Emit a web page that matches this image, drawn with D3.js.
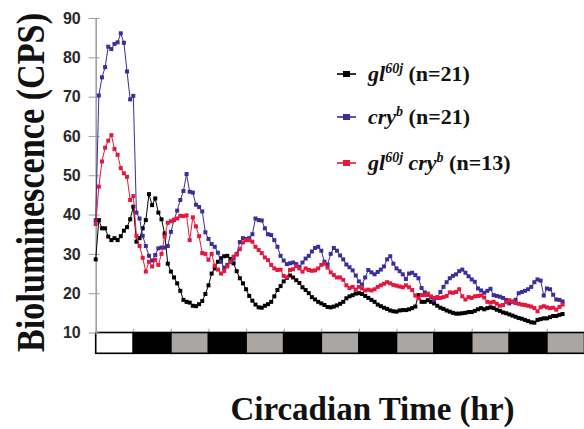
<!DOCTYPE html>
<html>
<head>
<meta charset="utf-8">
<script src="https://cdn.jsdelivr.net/npm/d3@7"></script>
<style>
  html, body { margin: 0; padding: 0; background: #fff; }
  svg { display: block; }
</style>
</head>
<body>
<svg id="chart" width="584" height="429"></svg>
<script>
// Mean bioluminescence (CPS), one sample per hour from CT 0
const gl60j = [
  28.6, 38.6, 36.5, 36.5, 34.4, 33.5, 34.0, 33.5, 34.5, 35.9,
  36.8, 38.8, 42.0, 33.1, 34.0, 36.5, 38.6, 45.2, 42.4, 44.1,
  40.5, 38.8, 35.2, 27.5, 25.5, 24.0, 22.5, 20.6, 18.3, 17.8,
  17.6, 16.8, 16.7, 17.2, 18.0, 19.8, 22.0, 25.0, 26.3, 28.0,
  28.9, 29.4, 29.5, 28.7, 27.6, 25.6, 23.8, 22.5, 21.0, 19.3,
  18.1, 17.1, 16.4, 16.3, 16.8, 17.2, 17.8, 19.2, 20.8, 21.8,
  23.0, 23.9, 24.5, 24.0, 23.3, 22.6, 21.5, 20.8, 20.0, 19.0,
  18.4, 17.8, 17.4, 17.0, 16.5, 16.4, 16.6, 16.9, 17.3, 17.8,
  18.7, 19.2, 19.5, 19.9, 20.0, 19.8, 19.3, 18.8, 18.3, 17.8,
  17.1, 16.7, 16.3, 16.0, 15.6, 15.4, 15.3, 15.6, 15.7, 15.7,
  15.9, 16.2, 16.6, 19.5, 17.8, 17.8, 18.2, 17.8, 17.4, 16.8,
  16.3, 16.0, 15.6, 15.3, 15.0, 14.8, 14.8, 14.9, 15.0, 15.2,
  15.2, 15.5, 15.9, 16.2, 15.9, 16.2, 16.4, 16.2, 15.8, 15.5,
  15.1, 14.9, 14.6, 14.3, 14.0, 13.7, 13.5, 13.2, 12.9, 12.6,
  12.5, 13.2, 13.4, 13.6, 13.6, 13.9, 14.2, 14.2, 14.5, 14.7
];
const cryb = [
  38.6, 70.3, 74.9, 77.5, 82.7, 82.1, 83.4, 83.8, 86.1, 83.7,
  76.4, 69.3, 70.2, 40.5, 39.0, 34.6, 32.0, 29.5, 28.3, 29.7,
  31.4, 31.6, 31.6, 32.0, 35.6, 38.6, 41.0, 43.7, 46.0, 50.3,
  45.8, 45.6, 42.5, 41.9, 40.8, 35.5, 33.8, 32.5, 31.8, 30.3,
  28.0, 26.5, 27.2, 27.9, 28.8, 30.0, 33.0, 34.0, 33.8, 34.0,
  35.0, 39.0, 38.6, 38.5, 36.5, 35.0, 34.8, 33.5, 31.8, 29.5,
  28.3, 27.4, 27.6, 27.8, 27.4, 26.7, 27.8, 28.8, 29.5, 30.6,
  31.5, 31.8, 30.8, 28.0, 27.3, 30.0, 31.5, 30.8, 29.6, 28.6,
  27.3, 26.6, 25.8, 24.5, 23.0, 22.2, 24.0, 25.9, 25.3, 24.8,
  25.4, 26.0, 26.8, 28.6, 29.4, 27.5, 26.3, 25.6, 24.8, 23.6,
  25.0, 25.2, 24.6, 23.8, 21.3, 20.2, 19.6, 18.9, 18.2, 18.8,
  20.3, 21.6, 22.8, 23.8, 24.4, 24.8, 25.6, 26.0, 25.2, 24.3,
  23.5, 22.9, 21.2, 20.7, 20.1, 20.6, 21.1, 19.5, 19.3, 19.1,
  18.8, 18.3, 17.4, 17.8, 18.3, 20.0, 20.3, 20.6, 21.0, 21.6,
  22.8, 23.5, 23.2, 19.4, 21.2, 21.0, 19.6, 18.4, 18.3, 17.9
];
const gl60jCryb = [
  37.6, 47.1, 53.5, 57.0, 58.8, 60.2, 56.7, 55.2, 51.8, 50.5,
  49.6, 43.7, 44.7, 34.6, 32.0, 29.0, 25.5, 28.0, 26.8, 28.5,
  27.2, 30.0, 34.4, 37.9, 38.3, 38.7, 39.0, 39.7, 39.6, 39.8,
  33.5, 39.3, 37.0, 34.5, 30.2, 30.0, 28.5, 30.0, 27.0, 26.0,
  25.0, 25.6, 26.8, 28.0, 29.3, 29.8, 31.2, 32.9, 33.5, 33.5,
  33.1, 31.8, 31.0, 30.2, 29.1, 28.4, 27.2, 26.3, 25.9, 26.0,
  24.4, 24.0, 25.9, 26.1, 26.9, 26.3, 25.5, 26.3, 25.9, 25.7,
  25.8, 26.3, 27.2, 27.5, 26.5, 25.3, 24.6, 24.0, 24.0, 23.4,
  22.0, 21.3, 21.6, 20.9, 21.6, 21.2, 20.7, 20.9, 20.7, 21.0,
  21.6, 22.0, 22.4, 22.8, 22.5, 22.1, 21.9, 21.7, 21.5, 22.0,
  21.5, 20.8, 19.4, 18.7, 19.5, 19.5, 19.9, 19.2, 18.8, 19.0,
  18.8, 19.0, 19.3, 20.2, 20.1, 20.3, 21.0, 19.2, 18.4, 19.0,
  18.8, 19.2, 19.3, 19.4, 18.9, 17.8, 17.6, 17.8, 17.3, 16.8,
  17.0, 17.7, 18.2, 17.9, 17.5, 17.3, 17.1, 17.0, 16.8, 16.6,
  16.2, 15.4, 16.4, 16.7, 16.4, 16.2, 16.3, 15.8, 16.5, 17.1
];

// Lighting regime in 12 h blocks: L = light, D = dark, S = subjective day
const phases = ["L", "D", "S", "D", "S", "D", "S", "D", "S", "D", "S", "D", "S"];
const phaseHours = 12;
const yTicks = [10, 20, 30, 40, 50, 60, 70, 80, 90];

const series = [
  { key: "gl60j", values: gl60j, color: "#000000",
    label: [{ t: "gl", i: true }, { t: "60j", i: true, sup: true }, { t: " (n=21)" }] },
  { key: "cryb", values: cryb, color: "#3b2e9a",
    label: [{ t: "cry", i: true }, { t: "b", i: true, sup: true }, { t: " (n=21)" }] },
  { key: "gl60jcryb", values: gl60jCryb, color: "#e5173d",
    label: [{ t: "gl", i: true }, { t: "60j", i: true, sup: true }, { t: " cry", i: true },
            { t: "b", i: true, sup: true }, { t: " (n=13)" }] }
];

const svg = d3.select("#chart");
const serif = "'Liberation Serif', 'Times New Roman', serif";
const sans = "'Liberation Sans', Arial, sans-serif";

const x = d3.scaleLinear().domain([0, phases.length * phaseHours]).range([95.7, 584.5]);
const y = d3.scaleLinear().domain([10, 90]).range([332.5, 18]);

// Light/dark bar along the bottom
const barTop = 332.5, barBottom = 353.3;
const phaseFill = { L: "#ffffff", D: "#000000", S: "#aaa6a3" };
svg.append("g").selectAll("rect")
  .data(phases)
  .join("rect")
  .attr("x", (d, i) => x(i * phaseHours))
  .attr("y", barTop)
  .attr("width", x(phaseHours) - x(0))
  .attr("height", barBottom - barTop)
  .attr("fill", d => phaseFill[d])
  .attr("stroke", "#000")
  .attr("stroke-width", 1.6);

// Time ticks at each block boundary
const xAxis = svg.append("g")
  .attr("transform", `translate(0,${barTop - 0.8})`)
  .call(d3.axisTop(x)
    .tickValues(d3.range(1, phases.length).map(i => i * phaseHours))
    .tickSize(3).tickFormat(""));
xAxis.select(".domain").remove();
xAxis.selectAll(".tick line").attr("stroke", "#9a9a9a").attr("stroke-width", 1);

// Y axis
const yAxis = svg.append("g")
  .attr("transform", "translate(95.7,0)")
  .call(d3.axisLeft(y).tickValues(yTicks).tickSizeInner(7).tickSizeOuter(0).tickPadding(8));
yAxis.select(".domain").attr("stroke", "#a0a0a0").attr("stroke-width", 1.6);
yAxis.selectAll(".tick line").attr("stroke", "#a0a0a0").attr("stroke-width", 1).attr("x1", 4);
yAxis.selectAll(".tick text")
  .attr("font-family", sans).attr("font-size", 16).attr("font-weight", "bold")
  .attr("fill", "#2a2a2a");

// Series: thin connecting lines with small square markers
const line = d3.line().x((d, i) => x(i)).y(d => y(d));
const plot = svg.append("g");
series.forEach(s => {
  const g = plot.append("g");
  g.append("path")
    .attr("d", line(s.values))
    .attr("fill", "none")
    .attr("stroke", s.color)
    .attr("stroke-width", 1);
  g.selectAll("rect")
    .data(s.values)
    .join("rect")
    .attr("x", (d, i) => x(i) - 2)
    .attr("y", d => y(d) - 2)
    .attr("width", 4)
    .attr("height", 4)
    .attr("fill", s.color);
});

// Legend
const legend = svg.append("g");
const legendRows = [74, 117, 163];
series.forEach((s, k) => {
  const g = legend.append("g").attr("transform", `translate(0,${legendRows[k]})`);
  g.append("line").attr("x1", 337).attr("x2", 356).attr("y1", 0).attr("y2", 0)
    .attr("stroke", s.color).attr("stroke-width", 1.6);
  g.append("rect").attr("x", 343).attr("y", -3).attr("width", 7).attr("height", 6)
    .attr("fill", s.color);
  const t = g.append("text")
    .attr("x", 368).attr("y", 7)
    .attr("font-family", serif).attr("font-weight", "bold").attr("font-size", 22)
    .attr("fill", "#111");
  let raised = false;
  s.label.forEach(p => {
    const span = t.append("tspan").text(p.t)
      .attr("font-family", serif).attr("font-weight", "bold");
    if (p.i) span.attr("font-style", "italic");
    if (p.sup) {
      span.attr("font-size", 14).attr("dy", -8);
      raised = true;
    } else if (raised) {
      span.attr("dy", 8);
      raised = false;
    }
  });
});

// Axis titles (the vertical one is set in a condensed bold serif)
svg.append("text")
  .attr("transform", "translate(44,182.5) rotate(-90) scale(0.834,1)")
  .attr("text-anchor", "middle")
  .attr("font-family", serif).attr("font-weight", "bold").attr("font-size", 41)
  .attr("fill", "#111")
  .text("Bioluminescence (CPS)");

svg.append("text")
  .attr("x", 372.5).attr("y", 420)
  .attr("text-anchor", "middle")
  .attr("font-family", serif).attr("font-weight", "bold").attr("font-size", 33)
  .attr("fill", "#111")
  .text("Circadian Time (hr)");
</script>
</body>
</html>
